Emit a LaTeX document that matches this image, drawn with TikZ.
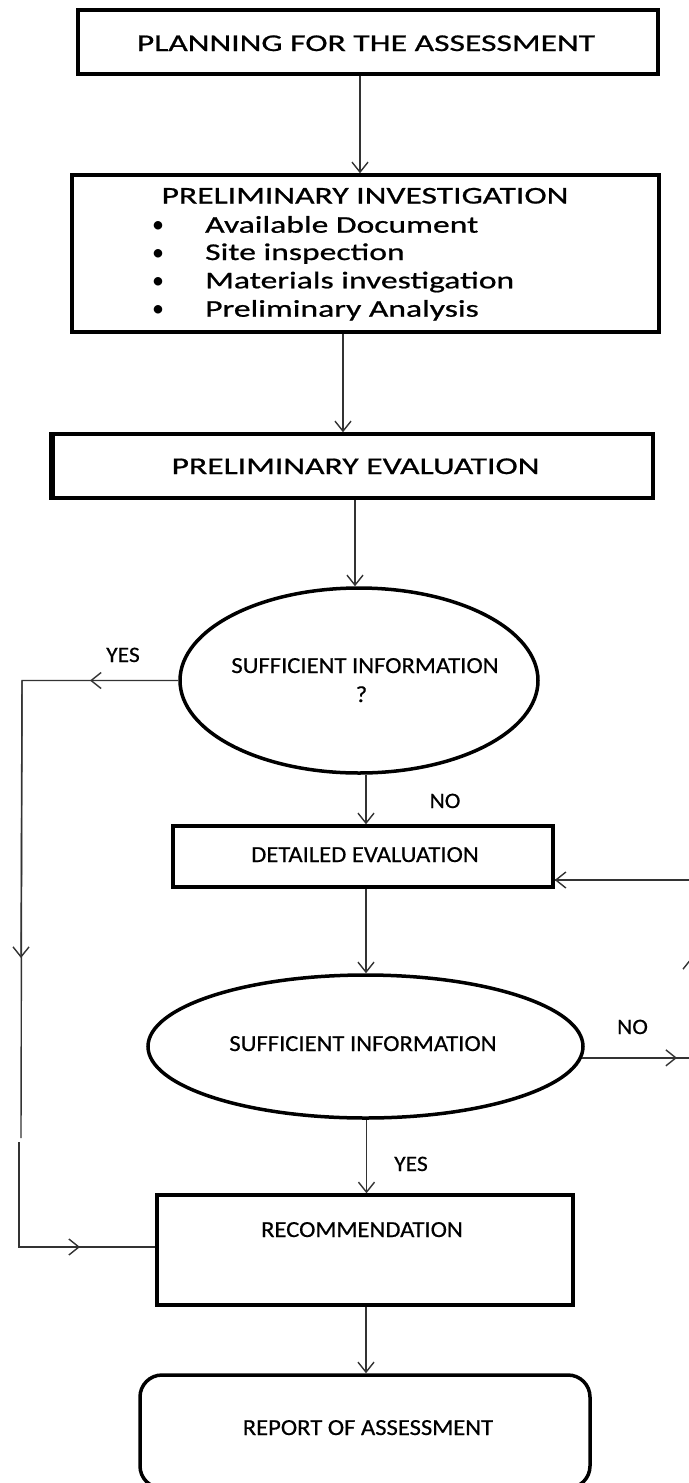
\documentclass[tikz,border=0pt]{standalone}
\usepackage{fontspec}
\setmainfont{Carlito}
\newfontfamily\upfont{Carlito}[FakeStretch=1.4,FakeBold=0.8]
\newfontfamily\lowfont{Carlito}[FakeStretch=1.07,FakeBold=0.5]
\newfontfamily\dotfont{Carlito}
\usetikzlibrary{arrows.meta,shapes.geometric,calc}

\begin{document}
\begin{tikzpicture}[x=1pt,y=-1pt,
  box/.style={draw, rectangle, line width=3.5pt, inner sep=0pt},
  oval/.style={draw, ellipse, line width=3.5pt, inner sep=0pt},
  uptext/.style={inner sep=0pt, anchor=base, font=\upfont\fontsize{24}{28}\selectfont},
  lowtext/.style={inner sep=0pt, anchor=base, font=\lowfont\fontsize{23}{27}\selectfont},
  labeltext/.style={inner sep=0pt, anchor=base, font=\lowfont\fontsize{22}{26}\selectfont},
  conn/.style={draw=black!80, line width=1.4pt},
  arr/.style={conn, -{Straight Barb[length=10pt,width=16pt]}},
]
\useasboundingbox (0,0) rectangle (688,1483);

% boxes and decision ovals
\node[box, minimum width=580, minimum height=64] (b1) at (368,42) {};
\node[box, minimum width=587, minimum height=157] (b2) at (365.5,253.5) {};
\node[box, minimum width=601, minimum height=64] (b3) at (352.5,466) {};
\draw[line width=6pt] ([xshift=1.5]b3.north west) -- ([xshift=1.5]b3.south west);
\node[oval, minimum width=358, minimum height=185] (e1) at (359,680.5) {};
\node[box, minimum width=380, minimum height=61] (b4) at (363,856.5) {};
\node[oval, minimum width=435, minimum height=143] (e2) at (365.5,1046.5) {};
\node[box, minimum width=416, minimum height=110] (b5) at (365,1250) {};
\node[box, rounded corners=22pt, minimum width=450, minimum height=113] (b6) at (365,1431.5) {};

% texts
\node[uptext] (t1) at (366,51) {PLANNING FOR THE ASSESSMENT};
\node[uptext] (t2) at (365,203.5) {PRELIMINARY INVESTIGATION};
\foreach \y/\txt [count=\i] in {232.7/Available Document, 260/Site inspection,
    288.3/Materials investigation, 316.7/Preliminary Analysis}{
  \node[uptext, font=\dotfont\fontsize{24}{28}\selectfont] (dot\i) at (158,\y) {•};
  \node[uptext, anchor=base west] (item\i) at (205,\y) {\txt};
}
\node[uptext] (t3) at (355.5,474) {PRELIMINARY EVALUATION};
\node[lowtext] (t4) at (365,673) {SUFFICIENT INFORMATION};
\node[lowtext] (t4q) at (361.5,702) {?};
\node[lowtext] (t5) at (365,862) {DETAILED EVALUATION};
\node[lowtext] (t6) at (363,1051) {SUFFICIENT INFORMATION};
\node[lowtext] (t7) at (362,1237) {RECOMMENDATION};
\node[lowtext] (t8) at (368,1435) {REPORT OF ASSESSMENT};

% branch labels
\node[labeltext] (yes1) at (123,662) {YES};
\node[labeltext] (no1) at (445,808) {NO};
\node[labeltext] (no2) at (632.5,1034) {NO};
\node[labeltext] (yes2) at (411,1171) {YES};

% main flow
\draw[arr] ([xshift=-8]b1.south) -- ([xshift=-8]b1.south |- b2.north);
\draw[arr] ([xshift=-22.5]b2.south) -- ([xshift=-22.5]b2.south |- b3.north);
\draw[arr] ([xshift=2.5]b3.south) -- ([xshift=2.5]b3.south |- e1.north);
\draw[arr] ([xshift=3]b4.north |- e1.south) -- ([xshift=3]b4.north);
\draw[arr] ([xshift=3]b4.south) -- ([xshift=3]b4.south |- e2.north);
\draw[arr] ([xshift=1]e2.south) -- ([xshift=1]e2.south |- b5.north);
\draw[arr] ([xshift=1]b5.south) -- ([xshift=1]b5.south |- b6.north);

% YES branch down the left side to the recommendation
\coordinate (ya) at (90,680.5);
\coordinate (yc) at (22,680.5);
\coordinate (yd) at (21,958);
\coordinate (ye) at (21,1138);
\coordinate (yf) at (19,1142);
\coordinate (yg) at (19,1247);
\coordinate (yh) at (80,1247);
\draw[conn] (e1.west) -- (yc) -- (ye);
\draw[conn] (yf) -- (yg) -- (yg -| b5.west);
\draw[arr] (e1.west) -- (ya);
\draw[arr] (yc) -- (yd);
\draw[arr] (yg) -- (yh);

% NO branch loops back to the detailed evaluation
\coordinate (ns) at (e2.-3.2);
\coordinate (na) at (677,0);
\coordinate (nb) at (691,0);
\coordinate (nc) at (691,958);
\coordinate (nd) at (691,880);
\draw[conn] (ns) -- (ns -| nb) -- (nd) -- (nd -| b4.east);
\draw[arr] (ns) -- (ns -| na);
\draw[arr] (ns -| nb) -- (nc);
\draw[arr] (nd) -- (nd -| b4.east);
\end{tikzpicture}
\end{document}
